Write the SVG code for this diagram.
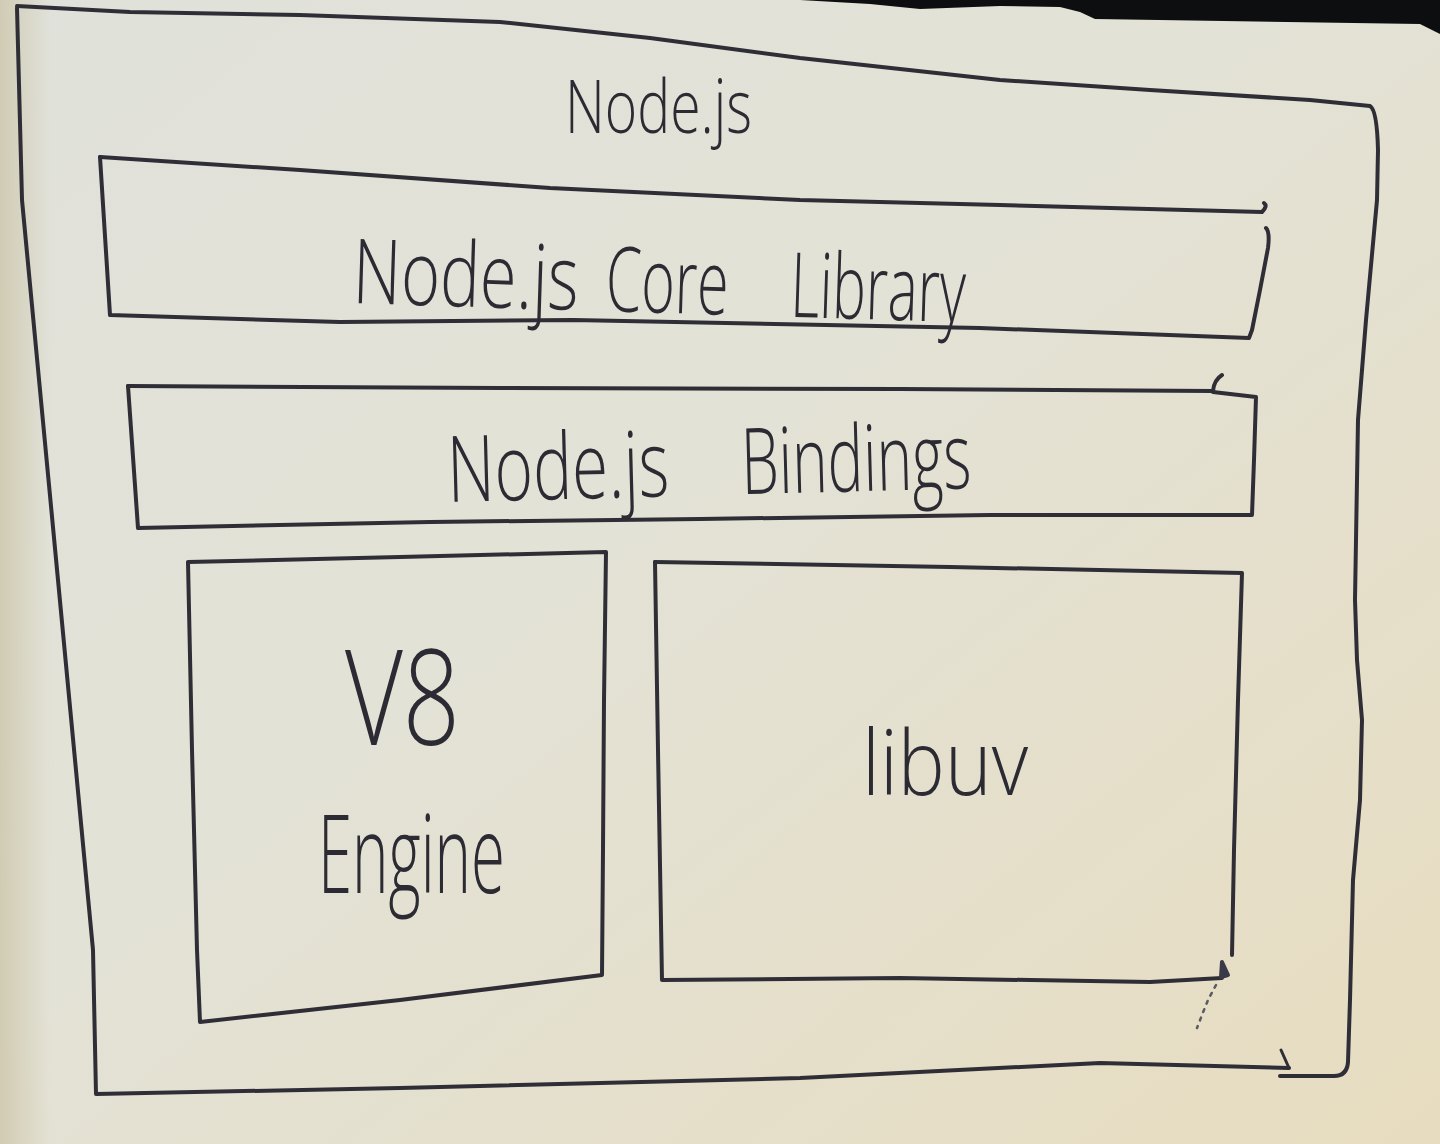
<svg xmlns="http://www.w3.org/2000/svg" width="1440" height="1144" viewBox="0 0 1440 1144">
  <defs>
    <linearGradient id="paper" x1="0" y1="0" x2="1" y2="1">
      <stop offset="0" stop-color="#e0e1da"/>
      <stop offset="0.45" stop-color="#e3e2d6"/>
      <stop offset="1" stop-color="#e7dcbf"/>
    </linearGradient>
    <linearGradient id="leftEdge" x1="0" y1="0" x2="1" y2="0">
      <stop offset="0" stop-color="#c9c2a3" stop-opacity="0.7"/>
      <stop offset="1" stop-color="#c9c2a3" stop-opacity="0"/>
    </linearGradient>
    <style>
      .ink { fill: none; stroke: #2f2e36; stroke-width: 4; stroke-linecap: round; stroke-linejoin: round; }
      .thin { stroke-width: 3; }
      .label { font-family: "Open Sans", "Liberation Sans", sans-serif; font-weight: 300; fill: #2c2b33; }
    </style>
  </defs>

  <!-- paper -->
  <rect x="0" y="0" width="1440" height="1144" fill="url(#paper)"/>
  <rect x="0" y="0" width="50" height="1144" fill="url(#leftEdge)"/>
  <!-- dark background beyond paper edge, top right -->
  <path d="M800,0 L870,4 L920,9 L1000,6 L1060,7 L1080,12 L1095,19 L1420,24 L1440,34 L1440,0 Z" fill="#0c0e10"/>

  <!-- Outer Node.js box -->
  <g id="node-nodejs">
    <path class="ink" d="M17,6 L130,12 L300,15 L500,22 L650,38 L800,58 L1000,80 L1150,90 L1310,100 L1370,106 Q1377,110 1378,150 L1377,200 L1366,320 L1358,420 L1355,600 L1357,660 L1362,720 L1360,800 L1353,880 L1350,1000 L1348,1062 Q1347,1076 1334,1076 L1280,1076"/>
    <path class="ink" d="M17,8 L22,200 L58,580 L93,950 L96,1094 L400,1088 L800,1078 L1100,1063 L1289,1068"/>
    <path class="ink thin" d="M1289,1068 L1281,1050"/>
    <text class="label" x="565" y="133" font-size="74" textLength="187" lengthAdjust="spacingAndGlyphs">Node.js</text>
  </g>

  <!-- Node.js Core Library -->
  <g id="node-core">
    <path class="ink" d="M100,157 L300,170 L550,188 L800,200 L1000,205 L1262,212 Q1268,206 1264,203"/>
    <path class="ink" d="M1266,228 Q1270,232 1268,248 L1260,290 L1252,330 L1249,338 L980,328 L573,320 L340,322 L110,315 L100,157"/>
    <text class="label" font-size="90" y="303" transform="rotate(1.8 352 303)"><tspan x="352" textLength="226" lengthAdjust="spacingAndGlyphs">Node.js</tspan> <tspan x="605" textLength="123" lengthAdjust="spacingAndGlyphs">Core</tspan> <tspan x="790" textLength="175" lengthAdjust="spacingAndGlyphs">Library</tspan></text>
  </g>

  <!-- Node.js Bindings -->
  <g id="node-bindings">
    <path class="ink" d="M128,386 L500,388 L900,389 L1213,391 Q1214,380 1222,375"/>
    <path class="ink" d="M1213,392 L1256,397 L1254,460 L1252,515 L990,515 L700,519 L430,522 L138,528 L128,386"/>
    <text class="label" font-size="92" y="502" transform="rotate(-1.5 448 502)"><tspan x="448" textLength="222" lengthAdjust="spacingAndGlyphs">Node.js</tspan> <tspan x="742" textLength="230" lengthAdjust="spacingAndGlyphs">Bindings</tspan></text>
  </g>

  <!-- V8 Engine -->
  <g id="node-v8">
    <path class="ink" d="M188,562 L400,557 L606,552 L604,700 L603,850 L602,975 L400,1000 L200,1022 L197,950 L192,750 L188,562"/>
    <text class="label" x="345" y="745" font-size="132" textLength="115" lengthAdjust="spacingAndGlyphs">V8</text>
    <text class="label" x="318" y="893" font-size="108" textLength="187" lengthAdjust="spacingAndGlyphs">Engine</text>
  </g>

  <!-- libuv -->
  <g id="node-libuv">
    <path class="ink" d="M655,562 L950,567 L1242,573 L1238,700 L1234,850 L1232,955"/>
    <path class="ink" d="M655,562 L658,750 L662,980 L900,978 L1150,982 L1222,978"/>
    <text class="label" x="862" y="795" font-size="90" textLength="166" lengthAdjust="spacingAndGlyphs">libuv</text>
  </g>

  <!-- stray pen marks -->
  <g id="connectors">
    <path d="M1222,962 L1228,975 L1221,977 Z" fill="#3a3a48" stroke="#3a3a48" stroke-width="4" stroke-linejoin="round"/>
    <path d="M1216,985 L1208,1000 L1202,1015 L1197,1028" fill="none" stroke="#5a5a62" stroke-width="2.5" stroke-dasharray="3 6" stroke-linecap="round"/>
  </g>
</svg>
